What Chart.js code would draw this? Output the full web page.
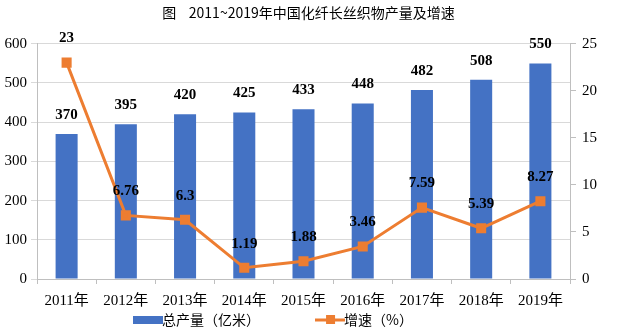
<!DOCTYPE html>
<html>
<head>
<meta charset="utf-8">
<script src="https://cdn.jsdelivr.net/npm/chart.js@4/dist/chart.umd.min.js"></script>
<style>
  html, body { margin: 0; padding: 0; background: #fff; }
  #wrap { width: 617px; height: 333px; position: relative; }
</style>
</head>
<body>
<div id="wrap"><canvas id="chart"></canvas></div>
<script>
// ── Data ─────────────────────────────────────────────────────
const YEARS = ['2011年', '2012年', '2013年', '2014年', '2015年', '2016年', '2017年', '2018年', '2019年'];
const OUTPUT = [370, 395, 420, 425, 433, 448, 482, 508, 550];
const GROWTH = [23, 6.76, 6.3, 1.19, 1.88, 3.46, 7.59, 5.39, 8.27];

const BLUE = '#4472c4';
const ORANGE = '#ed7d31';
const SERIF = '"Liberation Serif", "Noto Sans CJK SC", serif';

// legend swatches
function swatch(kind) {
    const c = document.createElement('canvas');
    c.width = 30; c.height = 10;
    const g = c.getContext('2d');
    if (kind === 'bar') {
        g.fillStyle = BLUE;
        g.fillRect(0, 1, 30, 8);
    } else {
        g.strokeStyle = ORANGE;
        g.lineWidth = 3;
        g.beginPath(); g.moveTo(0, 5); g.lineTo(30, 5); g.stroke();
        g.fillStyle = ORANGE;
        g.fillRect(11, 0, 9, 9);
    }
    return c;
}

// ── Value labels ─────────────────────────────────────────────
const valueLabels = {
    id: 'valueLabels',
    afterDatasetsDraw(chart) {
        const ctx = chart.ctx;
        ctx.save();
        ctx.font = 'bold 15px ' + SERIF;
        ctx.fillStyle = '#000';
        ctx.textAlign = 'center';
        ctx.textBaseline = 'middle';
        // dataset 1 = bars, dataset 0 = line
        chart.getDatasetMeta(1).data.forEach((el, i) => {
            ctx.fillText(String(OUTPUT[i]), el.x, el.y - 19);
        });
        chart.getDatasetMeta(0).data.forEach((el, i) => {
            ctx.fillText(String(GROWTH[i]), el.x, el.y - 24);
        });
        ctx.restore();
    },
};

new Chart(document.getElementById('chart'), {
    data: {
        labels: YEARS,
        datasets: [
            {
                type: 'line',
                label: '增速（%）',
                data: GROWTH,
                yAxisID: 'y1',
                borderColor: ORANGE,
                backgroundColor: ORANGE,
                borderWidth: 3,
                pointStyle: 'rect',
                pointRadius: 5,
                pointBackgroundColor: ORANGE,
                pointBorderColor: ORANGE,
                tension: 0,
                order: 0,
            },
            {
                type: 'bar',
                label: '总产量（亿米）',
                data: OUTPUT,
                yAxisID: 'y',
                backgroundColor: BLUE,
                barPercentage: 0.62,
                categoryPercentage: 0.6,
                order: 1,
            },
        ],
    },
    options: {
        responsive: true,
        maintainAspectRatio: false,
        animation: false,
        layout: { padding: { top: 0, left: 0, right: 0, bottom: -4 } },
        scales: {
            x: {
                offset: true,
                grid: { offset: true, drawOnChartArea: false, tickLength: 5, color: '#bfbfbf' },
                border: { color: '#bfbfbf' },
                ticks: { color: '#000', font: { family: SERIF, size: 15 }, padding: 8, maxRotation: 0 },
                afterFit: s => { s.height = 34; },
            },
            y: {
                position: 'left',
                min: 0, max: 600,
                ticks: { stepSize: 100, color: '#000', font: { family: SERIF, size: 15 }, padding: 4 },
                grid: { color: '#d9d9d9', tickLength: 6 },
                border: { color: '#bfbfbf' },
                afterFit: s => { s.width = 37; },
            },
            y1: {
                position: 'right',
                min: 0, max: 25,
                ticks: { stepSize: 5, color: '#000', font: { family: SERIF, size: 15 }, padding: 6 },
                grid: { drawOnChartArea: false, color: '#bfbfbf', tickLength: 6 },
                border: { color: '#bfbfbf' },
                afterFit: s => { s.width = 47; },
            },
        },
        plugins: {
            title: {
                display: true,
                text: '图    2011~2019年中国化纤长丝织物产量及增速',
                color: '#000',
                font: { family: '"Noto Sans CJK SC", sans-serif', size: 14, weight: 'normal' },
                padding: { top: 4, bottom: 23 },
            },
            legend: {
                position: 'bottom',
                labels: {
                    color: '#000',
                    font: { family: '"Noto Sans CJK SC", ' + SERIF, size: 14 },
                    usePointStyle: true,
                    padding: 0,
                    generateLabels: chart => [
                        { text: '总产量（亿米）　　　　　', pointStyle: swatch('bar'), datasetIndex: 1, fillStyle: BLUE, strokeStyle: BLUE, lineWidth: 0 },
                        { text: '增速（%）　　　　　', pointStyle: swatch('line'), datasetIndex: 0, fillStyle: ORANGE, strokeStyle: ORANGE, lineWidth: 0 },
                    ],
                },
            },
            tooltip: { enabled: false },
        },
    },
    plugins: [valueLabels],
});
</script>
</body>
</html>
